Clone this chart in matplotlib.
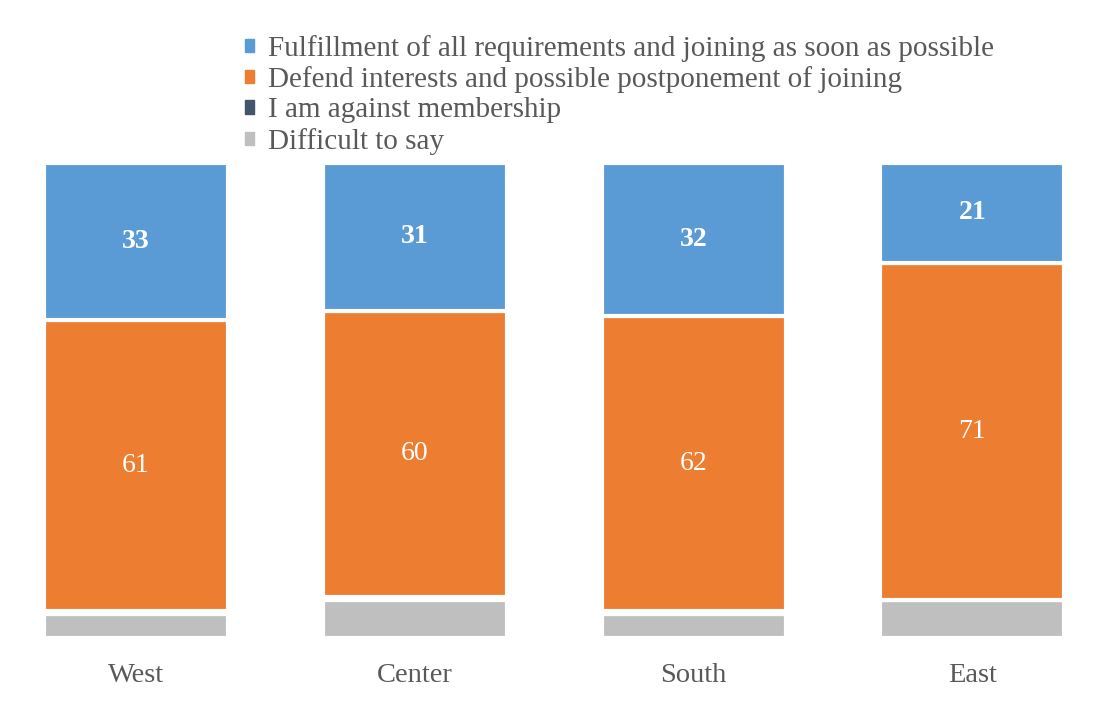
import numpy as np
import matplotlib.pyplot as plt
from matplotlib.patches import Patch

# Data
regions = ["West", "Center", "South", "East"]
series = ["Fulfillment of all requirements and joining as soon as possible",
          "Defend interests and possible postponement of joining",
          "I am against membership",
          "Difficult to say"]
fulfill = [33, 31, 32, 21]
defend = [61, 60, 62, 71]
against = [0.6, 0.6, 0.6, 0]
difficult = [5, 8, 5, 8]

colors = ["#5B9BD5", "#ED7D31", "#44546A", "#BFBFBF"]
text_col = "#595959"

plt.rcParams['font.family'] = ['Liberation Serif', 'DejaVu Serif']

fig = plt.figure(figsize=(11.13, 7.22), dpi=100)
ax = fig.add_axes([-0.003, 0.1163, 1.002, 0.658])

x = np.arange(len(regions))
width = 0.66
values = np.array([fulfill, defend, against, difficult], dtype=float)
# 100% stacked
shares = values / values.sum(axis=0) * 100
# stack from the bottom: difficult, against, defend, fulfill
order = [3, 2, 1, 0]
bottom = np.zeros(len(regions))
bars = {}
for i in order:
    bars[i] = ax.bar(x, shares[i], width, bottom=bottom, color=colors[i],
                     edgecolor="white", linewidth=3, label=series[i])
    bottom += shares[i]
ax.set_ylim(0, 100)

ax.bar_label(bars[0], labels=[str(v) for v in fulfill], label_type="center",
             color="white", fontsize=20, fontweight="bold")
ax.bar_label(bars[1], labels=[str(v) for v in defend], label_type="center",
             color="white", fontsize=20)

ax.set_xlim(-0.5, len(regions) - 0.5)
ax.set_xticks(x)
ax.set_xticklabels(regions, fontsize=20.5, color=text_col)
ax.tick_params(axis="x", length=0, pad=18)
ax.set_yticks([])
for s in ax.spines.values():
    s.set_visible(False)

handles = [Patch(color=c) for c in colors]
fig.legend(handles, series, loc="upper left", bbox_to_anchor=(0.2095, 0.968),
           frameon=False, fontsize=21, labelcolor=text_col,
           handlelength=0.33, handleheight=0.33, handletextpad=0.45,
           labelspacing=0.15, borderaxespad=0)

fig.savefig("out.png", dpi=100)
